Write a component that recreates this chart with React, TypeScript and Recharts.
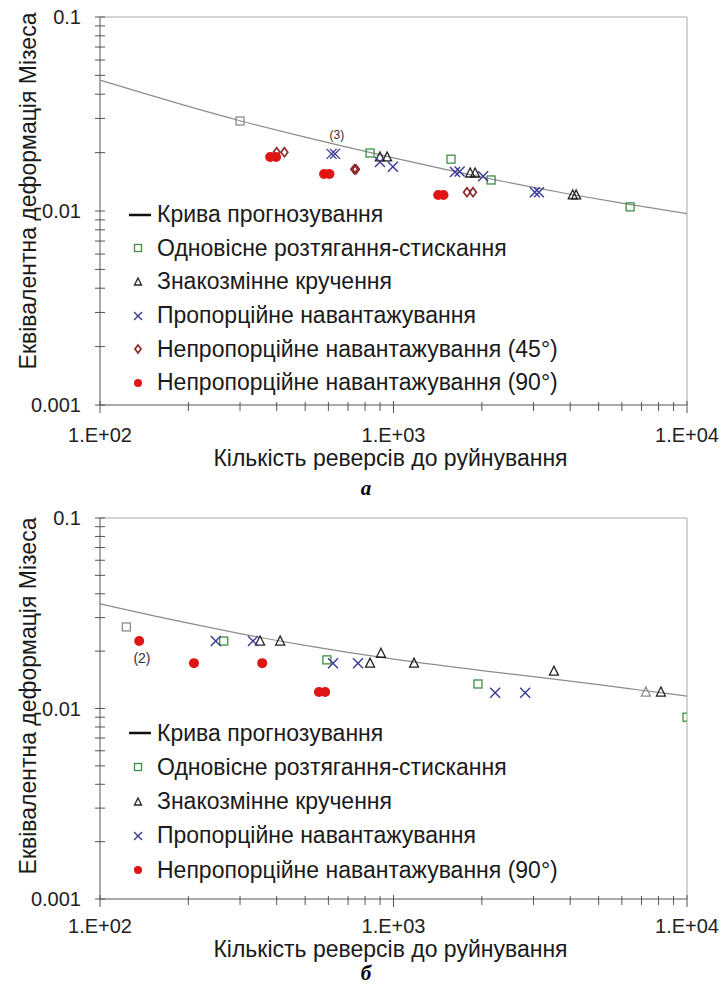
import React from "react";
import {
  ScatterChart,
  Scatter,
  XAxis,
  YAxis,
  Legend,
  ReferenceLine,
  ReferenceDot,
} from "recharts";

type Pt = { n: number; e: number };

// axis ticks
const xTicks = [100, 200, 300, 400, 500, 600, 700, 800, 900, 1000, 2000, 3000, 4000, 5000, 6000, 7000, 8000, 9000, 10000];
const xMajor = [100, 1000, 10000];
const yTicks = [0.001, 0.002, 0.003, 0.004, 0.005, 0.006, 0.007, 0.008, 0.009, 0.01, 0.02, 0.03, 0.04, 0.05, 0.06, 0.07, 0.08, 0.09, 0.1];
const yMajor = [0.001, 0.01, 0.1];

const NAMES = {
  curve: "Крива прогнозування",
  uni: "Одновісне розтягання-стискання",
  tor: "Знакозмінне кручення",
  prop: "Пропорційне навантажування",
  np45: "Непропорційне навантажування (45°)",
  np90: "Непропорційне навантажування (90°)",
};

// ---- chart a
const curveA: Pt[] = [
  { n: 100, e: 0.0473 }, { n: 150, e: 0.0393 }, { n: 200, e: 0.0346 }, { n: 300, e: 0.0292 },
  { n: 500, e: 0.02405 }, { n: 700, e: 0.0213 }, { n: 1000, e: 0.0188 }, { n: 1500, e: 0.01638 },
  { n: 2000, e: 0.01494 }, { n: 3000, e: 0.01323 }, { n: 4000, e: 0.0122 }, { n: 6000, e: 0.01098 },
  { n: 10000, e: 0.0097 },
];
const uniA: Pt[] = [{ n: 832, e: 0.0199 }, { n: 1570, e: 0.0185 }, { n: 2150, e: 0.01445 }, { n: 6400, e: 0.0105 }];
const uniGrayA: Pt[] = [{ n: 300, e: 0.0291 }];
const torA: Pt[] = [
  { n: 899, e: 0.019 }, { n: 951, e: 0.019 }, { n: 1825, e: 0.0157 }, { n: 1897, e: 0.0157 },
  { n: 4080, e: 0.0121 }, { n: 4190, e: 0.0121 },
];
const propA: Pt[] = [
  { n: 615, e: 0.0197 }, { n: 632, e: 0.0197 }, { n: 899, e: 0.0179 }, { n: 995, e: 0.0169 },
  { n: 1620, e: 0.0159 }, { n: 1680, e: 0.016 }, { n: 2020, e: 0.0151 }, { n: 3030, e: 0.0125 },
  { n: 3130, e: 0.0125 },
];
const np45A: Pt[] = [
  { n: 400, e: 0.0201 }, { n: 425, e: 0.0201 }, { n: 735, e: 0.0164 }, { n: 745, e: 0.0164 },
  { n: 1780, e: 0.0125 }, { n: 1866, e: 0.0125 },
];
const np90A: Pt[] = [
  { n: 380, e: 0.019 }, { n: 398, e: 0.019 }, { n: 580, e: 0.0155 }, { n: 605, e: 0.0155 },
  { n: 1420, e: 0.0121 }, { n: 1480, e: 0.0121 },
];

// ---- chart b
const curveB: Pt[] = [
  { n: 100, e: 0.0354 }, { n: 150, e: 0.03084 }, { n: 200, e: 0.02805 }, { n: 300, e: 0.02473 },
  { n: 500, e: 0.02144 }, { n: 700, e: 0.01971 }, { n: 1000, e: 0.01816 }, { n: 2000, e: 0.01581 },
  { n: 3000, e: 0.0147 }, { n: 5000, e: 0.01334 }, { n: 7000, e: 0.01247 }, { n: 10000, e: 0.01161 },
];
const uniB: Pt[] = [{ n: 264, e: 0.0226 }, { n: 593, e: 0.018 }, { n: 1940, e: 0.01345 }, { n: 10000, e: 0.009 }];
const uniGrayB: Pt[] = [{ n: 123, e: 0.0268 }];
const torB: Pt[] = [
  { n: 351, e: 0.0226 }, { n: 411, e: 0.0226 }, { n: 832, e: 0.0173 }, { n: 906, e: 0.0195 },
  { n: 1175, e: 0.0173 }, { n: 3520, e: 0.0157 }, { n: 8150, e: 0.0122 },
];
const torGrayB: Pt[] = [{ n: 7240, e: 0.0122 }];
const propB: Pt[] = [
  { n: 248, e: 0.0226 }, { n: 332, e: 0.0226 }, { n: 622, e: 0.0173 }, { n: 757, e: 0.0173 },
  { n: 2220, e: 0.0121 }, { n: 2810, e: 0.0121 },
];
const np90B: Pt[] = [
  { n: 136, e: 0.0226 }, { n: 209, e: 0.0173 }, { n: 357, e: 0.0173 }, { n: 557, e: 0.0122 },
  { n: 585, e: 0.0122 },
];

const FONT = "'Liberation Sans', Arial, sans-serif";
const AXIS = "#555";

// marker shapes
const square = (color: string, s = 4) => (p: any) => (
  <rect x={p.cx - s} y={p.cy - s} width={2 * s} height={2 * s} fill="none" stroke={color} strokeWidth={1.3} />
);
const triangle = (color: string, s = 4.5) => (p: any) => (
  <polygon
    points={`${p.cx},${p.cy - s - 0.5} ${p.cx - s},${p.cy + s - 0.5} ${p.cx + s},${p.cy + s - 0.5}`}
    fill="none"
    stroke={color}
    strokeWidth={1.3}
  />
);
const cross = (color: string, s = 5) => (p: any) => (
  <g stroke={color} strokeWidth={1.4}>
    <line x1={p.cx - s} y1={p.cy - s} x2={p.cx + s} y2={p.cy + s} />
    <line x1={p.cx - s} y1={p.cy + s} x2={p.cx + s} y2={p.cy - s} />
  </g>
);
const diamond = (color: string, s = 4.5) => (p: any) => (
  <polygon
    points={`${p.cx},${p.cy - s} ${p.cx + s * 0.75},${p.cy} ${p.cx},${p.cy + s} ${p.cx - s * 0.75},${p.cy}`}
    fill="none"
    stroke={color}
    strokeWidth={1.7}
  />
);
const dot = (color: string, r = 5) => (p: any) => <circle cx={p.cx} cy={p.cy} r={r} fill={color} />;
const noShape = () => <g />;

const GREEN = "#3c9040";
const BLACK = "#222";
const BLUE = "#3a3a94";
const BROWN = "#8a2a2a";
const RED = "#e01515";
const GRAY = "#8a8a8a";

const legendMarker: Record<string, (p: any) => React.ReactElement> = {
  [NAMES.curve]: () => <line x1={9} x2={31} y1={17} y2={17} stroke="#111" strokeWidth={2.5} />,
  [NAMES.uni]: square(GREEN, 3.5),
  [NAMES.tor]: triangle(BLACK, 3.5),
  [NAMES.prop]: cross(BLUE, 4),
  [NAMES.np45]: diamond(BROWN, 4),
  [NAMES.np90]: dot(RED, 4),
};

const legendOrder = [NAMES.curve, NAMES.uni, NAMES.tor, NAMES.prop, NAMES.np45, NAMES.np90];

const renderLegend = (rowH: number) => (props: any) => {
  const names: string[] = (props.payload || []).map((it: any) => String(it.value));
  const items = legendOrder.filter((n) => names.includes(n));
  return (
    <div style={{ fontFamily: FONT, fontSize: 23, color: "#1a1a1a" }}>
      {items.map((name) => (
        <div key={name} style={{ height: rowH, display: "flex", alignItems: "center" }}>
          <svg width={37} height={34} style={{ flex: "none" }}>
            {legendMarker[name]({ cx: 18, cy: 17 })}
          </svg>
          <span style={{ whiteSpace: "nowrap" }}>{name}</span>
        </div>
      ))}
    </div>
  );
};

const makeXTick = (dy: number) => (props: any) => {
  const { x, y, payload } = props;
  const major = xMajor.includes(payload.value);
  return (
    <g>
      <line x1={x} x2={x} y1={y - (major ? 4 : 3)} y2={y + (major ? 8 : 6)} stroke={AXIS} />
      {major && (
        <text x={x} y={y + dy} textAnchor="middle" dominantBaseline="central" fontSize={20} fontFamily={FONT} fill="#222">
          {"1.E+0" + Math.round(Math.log10(payload.value))}
        </text>
      )}
    </g>
  );
};

const YTick = (props: any) => {
  const { x, y, payload } = props;
  const major = yMajor.includes(payload.value);
  return (
    <g>
      <line x1={x - 5} x2={x + 5} y1={y} y2={y} stroke={AXIS} />
      {major && (
        <text x={x - 19} y={y} textAnchor="end" dominantBaseline="central" fontSize={20} fontFamily={FONT} fill="#222">
          {String(payload.value)}
        </text>
      )}
    </g>
  );
};

interface Series {
  name?: string;
  data: Pt[];
  shape: (p: any) => React.ReactElement;
}

interface ChartProps {
  top: number;
  height: number;
  margin: { top: number; right: number; bottom: number; left: number };
  curve: Pt[];
  series: Series[];
  legendTop: number;
  rowH: number;
  yTitleY: number;
  xTickDy: number;
  xTitleDy: number;
  note: { n: number; e: number; text: string; size: number };
}

const FatigueChart: React.FC<ChartProps> = (c) => {
  const XTick = makeXTick(c.xTickDy);
  return (
    <div style={{ position: "absolute", left: 0, top: c.top }}>
      <ScatterChart width={723} height={c.height} margin={c.margin}>
        <XAxis
          type="number"
          dataKey="n"
          scale="log"
          domain={[100, 10000]}
          ticks={xTicks}
          interval={0}
          tick={<XTick />}
          tickLine={false}
          tickSize={0}
          tickMargin={0}
          height={40}
          axisLine={{ stroke: AXIS }}
          allowDataOverflow
          label={(p: any) => {
            const vb = p.viewBox;
            return (
              <text x={vb.x + vb.width / 2 - 3} y={vb.y + c.xTitleDy} textAnchor="middle" dominantBaseline="central" fontSize={23} fontFamily={FONT} fill="#1a1a1a">
                Кількість реверсів до руйнування
              </text>
            );
          }}
        />
        <YAxis
          type="number"
          dataKey="e"
          scale="log"
          domain={[0.001, 0.1]}
          ticks={yTicks}
          interval={0}
          tick={<YTick />}
          tickLine={false}
          tickSize={0}
          tickMargin={0}
          width={100}
          axisLine={{ stroke: AXIS }}
          allowDataOverflow
          label={() => (
            <text
              x={28}
              y={c.yTitleY}
              transform={`rotate(-90 28 ${c.yTitleY})`}
              textAnchor="middle"
              dominantBaseline="central"
              fontSize={23}
              fontFamily={FONT}
              fill="#1a1a1a"
            >
              Еквівалентна деформація Мізеса
            </text>
          )}
        />
        <ReferenceLine y={0.1} stroke="#aaa" />
        <ReferenceLine x={10000} stroke="#aaa" />
        <Scatter
          name={NAMES.curve}
          data={c.curve}
          line={{ stroke: "#8c8c8c", strokeWidth: 1.2 }}
          lineJointType="monotoneX"
          shape={noShape}
          legendType="line"
          isAnimationActive={false}
        />
        {c.series.map((s, i) => (
          <Scatter
            key={i}
            name={s.name || "extra" + i}
            data={s.data}
            shape={s.shape}
            legendType={s.name ? "square" : "none"}
            isAnimationActive={false}
          />
        ))}
        <ReferenceDot
          x={c.note.n}
          y={c.note.e}
          r={1}
          fill="none"
          stroke="none"
          label={{ value: c.note.text, position: "center", fontSize: c.note.size, fill: "#333", fontFamily: FONT }}
        />
        <Legend
          layout="vertical"
          align="center"
          verticalAlign="middle"
          content={renderLegend(c.rowH)}
          wrapperStyle={{ left: 120, top: c.legendTop, width: 500 }}
        />
      </ScatterChart>
    </div>
  );
};

const captionStyle: React.CSSProperties = {
  position: "absolute",
  left: 356,
  width: 20,
  textAlign: "center",
  fontFamily: "'Liberation Serif', 'Times New Roman', serif",
  fontStyle: "italic",
  fontWeight: "bold",
  fontSize: 21,
  lineHeight: "20px",
};

export default function App() {
  return (
    <div style={{ position: "absolute", left: 0, top: 0, width: 723, height: 987, background: "#fff" }}>
      <FatigueChart
        top={0}
        height={470}
        margin={{ top: 17, right: 36, bottom: 25, left: 0 }}
        curve={curveA}
        series={[
          { data: uniGrayA, shape: square(GRAY) },
          { name: NAMES.uni, data: uniA, shape: square(GREEN) },
          { name: NAMES.tor, data: torA, shape: triangle(BLACK) },
          { name: NAMES.prop, data: propA, shape: cross(BLUE) },
          { name: NAMES.np45, data: np45A, shape: diamond(BROWN) },
          { name: NAMES.np90, data: np90A, shape: dot(RED) },
        ]}
        legendTop={198}
        rowH={33.6}
        yTitleY={191}
        xTickDy={30}
        xTitleDy={53}
        note={{ n: 641, e: 0.0247, text: "(3)", size: 12 }}
      />
      <div style={{ ...captionStyle, top: 478 }}>а</div>
      <FatigueChart
        top={500}
        height={487}
        margin={{ top: 18, right: 36, bottom: 48, left: 0 }}
        curve={curveB}
        series={[
          { data: uniGrayB, shape: square(GRAY) },
          { data: torGrayB, shape: triangle(GRAY) },
          { name: NAMES.uni, data: uniB, shape: square(GREEN) },
          { name: NAMES.tor, data: torB, shape: triangle(BLACK) },
          { name: NAMES.prop, data: propB, shape: cross(BLUE) },
          { name: NAMES.np90, data: np90B, shape: dot(RED) },
        ]}
        legendTop={216}
        rowH={34.25}
        yTitleY={196}
        xTickDy={27}
        xTitleDy={50}
        note={{ n: 139, e: 0.0184, text: "(2)", size: 14 }}
      />
      <div style={{ ...captionStyle, top: 963 }}>б</div>
    </div>
  );
}
